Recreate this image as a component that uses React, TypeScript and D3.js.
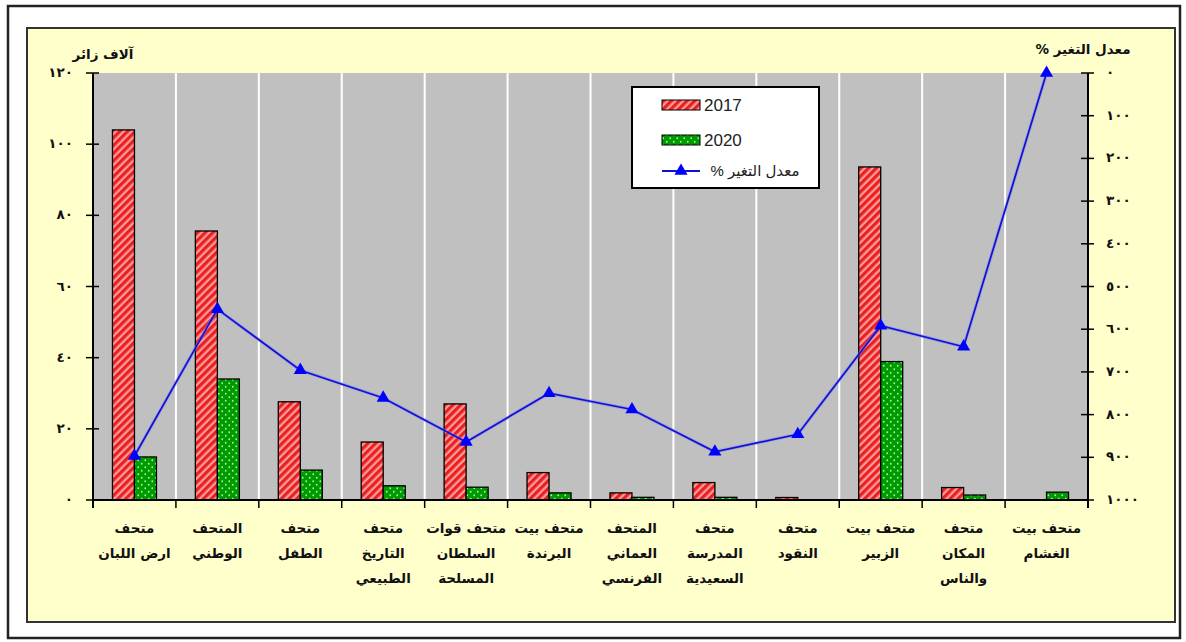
import React from "react";
import * as d3 from "d3";

const categories: string[][] = [
  ["متحف", "ارض اللبان"],
  ["المتحف", "الوطني"],
  ["متحف", "الطفل"],
  ["متحف", "التاريخ", "الطبيعي"],
  ["متحف قوات", "السلطان", "المسلحة"],
  ["متحف بيت", "البرندة"],
  ["المتحف", "العماني", "الفرنسي"],
  ["متحف", "المدرسة", "السعيدية"],
  ["متحف", "النقود"],
  ["متحف بيت", "الزبير"],
  ["متحف", "المكان", "والناس"],
  ["متحف بيت", "الغشام"],
];
const visitors2017 = [104, 75.6, 27.6, 16.3, 27, 7.7, 2.0, 4.9, 0.7, 93.6, 3.5, 0];
const visitors2020 = [12.1, 34, 8.4, 4, 3.6, 2, 0.75, 0.75, 0, 38.9, 1.4, 2.2];
const changeRate = [897, 553, 696, 761, 864, 750, 788, 887, 846, 592, 641, 0];
const leftTicks = [0, 20, 40, 60, 80, 100, 120];
const rightTicks = [0, 100, 200, 300, 400, 500, 600, 700, 800, 900, 1000];
const series = ["2017", "2020"];
const lineLabel = "معدل التغير %";
const leftTitle = "آلاف زائر";
const rightTitle = "معدل التغير %";

const arabicDigits = (n: number) =>
  String(n).replace(/[0-9]/g, (d) => "٠١٢٣٤٥٦٧٨٩"[+d]);

export default function App() {
  const W = 1186, H = 642;
  const pl = 93, pr = 1088, pt = 73, pb = 500;
  const x = d3.scaleBand<number>().domain(categories.map((_, i) => i)).range([pl, pr]).padding(0);
  const yL = d3.scaleLinear().domain([0, 120]).range([pb, pt]);
  const yR = d3.scaleLinear().domain([0, 1000]).range([pt, pb]);
  const bw = 22;
  const cx = (i: number) => (x(i) as number) + x.bandwidth() / 2;
  const line = d3.line<number>().x((_, i) => cx(i)).y((d) => yR(d));
  const tri = d3.symbol().type(d3.symbolTriangle).size(75)() as string;
  const arFont = "'DejaVu Sans', sans-serif";

  return (
    <svg width={W} height={H} style={{ position: "absolute", left: 0, top: 0, background: "#fff" }}>
      <defs>
        <pattern id="redStripe" patternUnits="userSpaceOnUse" width="5.5" height="5.5" patternTransform="rotate(45)">
          <rect width="5.5" height="5.5" fill="#FF9A9A" />
          <rect width="3.2" height="5.5" fill="#E82020" />
        </pattern>
        <pattern id="greenDot" patternUnits="userSpaceOnUse" width="7" height="7">
          <rect width="7" height="7" fill="#009A00" />
          <circle cx="1.75" cy="1.75" r="0.9" fill="#9CFF9C" />
          <circle cx="5.25" cy="5.25" r="0.9" fill="#9CFF9C" />
        </pattern>
      </defs>
      {/* outer frame */}
      <rect x={8} y={6} width={1172} height={632} fill="#fff" stroke="#222" strokeWidth={2.5} />
      <rect x={27} y={28} width={1148} height={594} fill="#FFFFCC" stroke="#333" strokeWidth={2} />
      {/* plot area */}
      <rect x={pl} y={pt} width={pr - pl} height={pb - pt} fill="#C0C0C0" />
      {categories.slice(1).map((_, i) => (
        <line key={"g" + i} x1={x(i + 1)} x2={x(i + 1)} y1={pt} y2={pb} stroke="#fff" strokeWidth={2} />
      ))}
      {/* bars */}
      {visitors2017.map((v, i) =>
        v > 0 ? (
          <rect key={"a" + i} x={cx(i) - bw} y={yL(v)} width={bw} height={pb - yL(v)} fill="url(#redStripe)" stroke="#000" strokeWidth={1.3} />
        ) : null
      )}
      {visitors2020.map((v, i) =>
        v > 0 ? (
          <rect key={"b" + i} x={cx(i)} y={yL(v)} width={bw} height={pb - yL(v)} fill="url(#greenDot)" stroke="#000" strokeWidth={1.3} />
        ) : null
      )}
      {/* axes */}
      <line x1={pl} x2={pl} y1={pt} y2={pb + 8} stroke="#000" strokeWidth={2} />
      <line x1={pr} x2={pr} y1={pt} y2={pb + 8} stroke="#000" strokeWidth={2} />
      <line x1={pl} x2={pr} y1={pb} y2={pb} stroke="#000" strokeWidth={2} />
      {categories.map((_, i) => (
        <line key={"xt" + i} x1={x(i)} x2={x(i)} y1={pb} y2={pb + 8} stroke="#000" strokeWidth={1.5} />
      ))}
      {leftTicks.map((t) => (
        <g key={"lt" + t}>
          <line x1={pl - 7} x2={pl + 6} y1={yL(t)} y2={yL(t)} stroke="#000" strokeWidth={1.5} />
          <text x={73} y={yL(t) + 4} textAnchor="end" fontFamily={arFont} fontWeight="bold" fontSize={13.5} letterSpacing={1.5} fill="#111">
            {arabicDigits(t)}
          </text>
        </g>
      ))}
      {rightTicks.map((t) => (
        <g key={"rt" + t}>
          <line x1={pr - 7} x2={pr + 6} y1={yR(t)} y2={yR(t)} stroke="#000" strokeWidth={1.5} />
          <text x={1106} y={yR(t) + 4} textAnchor="start" fontFamily={arFont} fontWeight="bold" fontSize={13.5} letterSpacing={1.5} fill="#111">
            {arabicDigits(t)}
          </text>
        </g>
      ))}
      {/* axis titles */}
      <text x={103} y={59} textAnchor="middle" fontFamily={arFont} fontWeight="bold" fontSize={13.5} fill="#111" style={{ direction: "rtl" }}>
        {leftTitle}
      </text>
      <text x={1083} y={54} textAnchor="middle" fontFamily={arFont} fontWeight="bold" fontSize={13.5} fill="#111" style={{ direction: "rtl" }}>
        {rightTitle}
      </text>
      {/* category labels */}
      {categories.map((lines, i) => (
        <text key={"c" + i} textAnchor="middle" fontFamily={arFont} fontWeight="bold" fontSize={13.5} fill="#111" style={{ direction: "rtl" }}>
          {lines.map((l, j) => (
            <tspan key={j} x={cx(i)} y={533 + j * 25}>
              {l}
            </tspan>
          ))}
        </text>
      ))}
      {/* line */}
      <path d={line(changeRate) as string} fill="none" stroke="#7f7fff" strokeWidth={3.5} opacity={0.45} />
      <path d={line(changeRate) as string} fill="none" stroke="#1010D0" strokeWidth={1.7} />
      {changeRate.map((v, i) => (
        <path key={"m" + i} d={tri} transform={`translate(${cx(i)},${yR(v)})`} fill="#0000FF" />
      ))}
      {/* legend */}
      <rect x={632} y={87} width={187} height={101} fill="#fff" stroke="#000" strokeWidth={2} />
      <rect x={662} y={100} width={38} height={10} fill="url(#redStripe)" stroke="#000" strokeWidth={1} />
      <text x={704} y={111} fontFamily="'Liberation Sans', Arial, sans-serif" fontSize={17} fill="#222">{series[0]}</text>
      <rect x={662} y={135} width={38} height={10} fill="url(#greenDot)" stroke="#000" strokeWidth={1} />
      <text x={704} y={146} fontFamily="'Liberation Sans', Arial, sans-serif" fontSize={17} fill="#222">{series[1]}</text>
      <line x1={662} x2={700} y1={171} y2={171} stroke="#1010D0" strokeWidth={2} />
      <path d={tri} transform="translate(681,171)" fill="#0000FF" />
      <text x={755} y={176} textAnchor="middle" fontFamily="'Liberation Sans', 'DejaVu Sans', sans-serif" fontSize={15} fill="#222" style={{ direction: "rtl" }}>
        {lineLabel}
      </text>
    </svg>
  );
}
